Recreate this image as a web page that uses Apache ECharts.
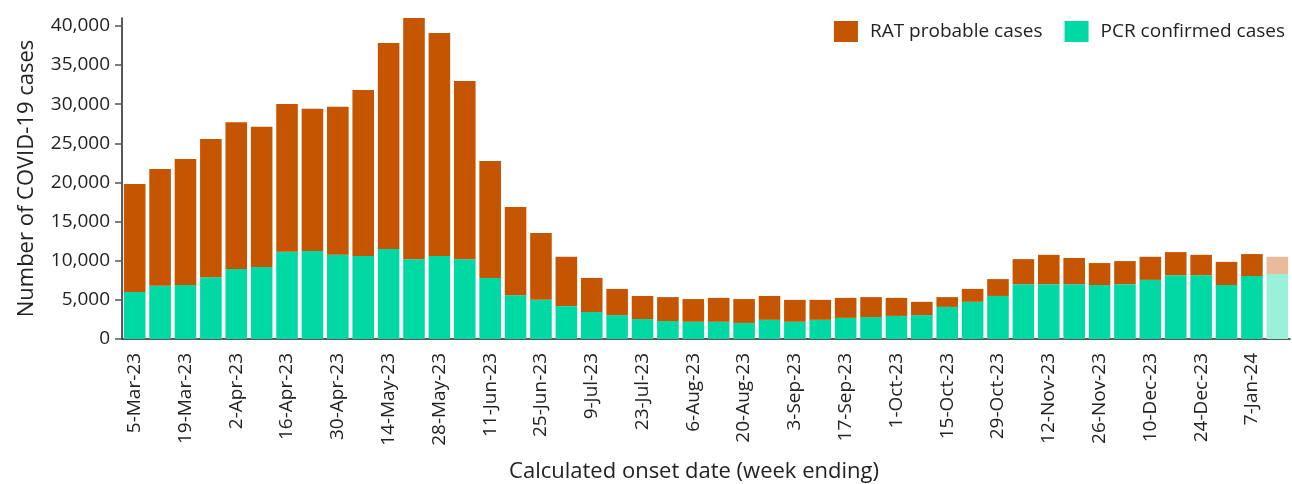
<!DOCTYPE html>
<html>
<head>
<meta charset="utf-8">
<script src="https://cdn.jsdelivr.net/npm/echarts@6/dist/echarts.min.js"></script>
<style>
html,body{margin:0;padding:0;background:#fff;}
#c{width:1292px;height:484px;}
</style>
</head>
<body>
<div id="c"></div>
<script>
var weeks = ['5-Mar-23','12-Mar-23','19-Mar-23','26-Mar-23','2-Apr-23','9-Apr-23','16-Apr-23','23-Apr-23','30-Apr-23','7-May-23','14-May-23','21-May-23','28-May-23','4-Jun-23','11-Jun-23','18-Jun-23','25-Jun-23','2-Jul-23','9-Jul-23','16-Jul-23','23-Jul-23','30-Jul-23','6-Aug-23','13-Aug-23','20-Aug-23','27-Aug-23','3-Sep-23','10-Sep-23','17-Sep-23','24-Sep-23','1-Oct-23','8-Oct-23','15-Oct-23','22-Oct-23','29-Oct-23','5-Nov-23','12-Nov-23','19-Nov-23','26-Nov-23','3-Dec-23','10-Dec-23','17-Dec-23','24-Dec-23','31-Dec-23','7-Jan-24','14-Jan-24'];
var pcrConfirmed = [6000,6800,6900,7900,8950,9200,11150,11250,10750,10600,11500,10200,10600,10200,7800,5600,5000,4200,3450,3050,2550,2300,2200,2200,2050,2450,2200,2450,2700,2800,2950,3050,4100,4750,5500,7000,7000,7000,6900,7000,7550,8150,8150,6900,8050,8300];
var ratProbable = [13800,14900,16100,17650,18750,17900,18850,18150,18900,21200,26300,30900,28500,22750,14950,11250,8550,6300,4350,3350,2950,3050,2900,3050,3050,3050,2800,2550,2550,2550,2300,1700,1250,1650,2150,3200,3750,3350,2800,2950,2950,2950,2600,2950,2800,2200];
var yTicks = [0,5000,10000,15000,20000,25000,30000,35000,40000];
var incompleteIndex = 45;

var RAT = '#C55500', PCR = '#00D9A3', RAT_L = '#E8BC9B', PCR_L = '#9BF0DA';
var FONT = 'Open Sans';

function mk(arr, light) {
  return arr.map(function (v, i) {
    return i === incompleteIndex ? { value: v, itemStyle: { color: light } } : v;
  });
}

var chart = echarts.init(document.getElementById('c'), null, { renderer: 'canvas' });
chart.setOption({
  animation: false,
  textStyle: { fontFamily: FONT },
  legend: {
    top: 16, right: 2, icon: 'rect',
    itemWidth: 24, itemHeight: 21, itemGap: 22,
    textStyle: { fontFamily: FONT, fontSize: 19, color: '#222', padding: [0,0,0,7] },
    data: ['RAT probable cases', 'PCR confirmed cases']
  },
  grid: { left: 122, right: 2, top: 18, bottom: 145, containLabel: false, outerBoundsMode: 'none' },
  xAxis: {
    type: 'category',
    data: weeks,
    name: 'Calculated onset date (week ending)',
    nameLocation: 'middle', nameGap: 122,
    nameTextStyle: { fontFamily: FONT, fontSize: 22, color: '#222', padding: [0, 24, 0, 0] },
    axisLine: { lineStyle: { color: '#222', width: 1.5 } },
    axisTick: { alignWithLabel: true, interval: 1, length: 8, lineStyle: { color: '#555', width: 1.5 } },
    axisLabel: { interval: 1, rotate: 90, fontSize: 19, color: '#222', margin: 14, fontFamily: FONT }
  },
  yAxis: {
    type: 'value', min: 0, max: 41000, interval: 5000,
    name: 'Number of COVID-19 cases',
    nameLocation: 'middle', nameGap: 84, nameRotate: 90,
    nameTextStyle: { fontFamily: FONT, fontSize: 22, color: '#222' },
    splitLine: { show: false },
    axisLine: { show: true, lineStyle: { color: '#222', width: 1.5 } },
    axisTick: { show: true, length: 7, customValues: yTicks, lineStyle: { color: '#555', width: 1.5 } },
    axisLabel: {
      customValues: yTicks, fontSize: 19, color: '#222', margin: 12, fontFamily: FONT,
      formatter: function (v) { return v.toLocaleString('en-US'); }
    }
  },
  series: [
    { name: 'PCR confirmed cases', type: 'bar', stack: 'c', barCategoryGap: '15%',
      itemStyle: { color: PCR }, data: mk(pcrConfirmed, PCR_L) },
    { name: 'RAT probable cases', type: 'bar', stack: 'c', barCategoryGap: '15%',
      itemStyle: { color: RAT }, data: mk(ratProbable, RAT_L) }
  ]
});
</script>
</body>
</html>
